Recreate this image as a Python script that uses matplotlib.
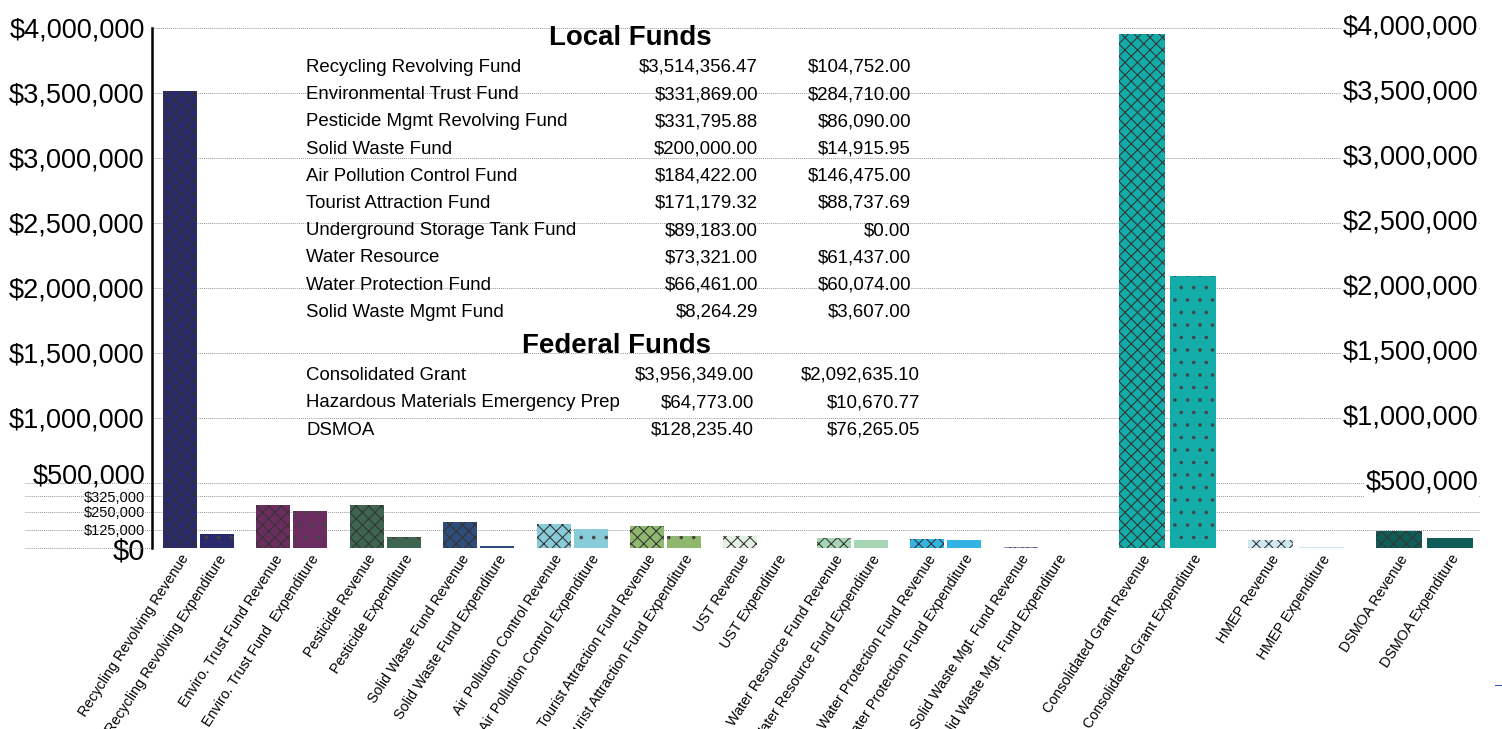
import numpy as np
import matplotlib.pyplot as plt
import matplotlib.transforms as mtransforms
from matplotlib.lines import Line2D

plt.rcParams['font.family'] = ['Liberation Sans', 'DejaVu Sans']
plt.rcParams['hatch.linewidth'] = 1.0

# fund table / bar data (same order in table and bars)
fund_names = ['Recycling Revolving Fund', 'Environmental Trust Fund', 'Pesticide Mgmt Revolving Fund',
              'Solid Waste Fund', 'Air Pollution Control Fund', 'Tourist Attraction Fund',
              'Underground Storage Tank Fund', 'Water Resource', 'Water Protection Fund',
              'Solid Waste Mgmt Fund',
              'Consolidated Grant', 'Hazardous Materials Emergency Prep', 'DSMOA']
is_federal = [False] * 10 + [True] * 3
revenue = [3514356.47, 331869.00, 331795.88, 200000.00, 184422.00, 171179.32, 89183.00,
           73321.00, 66461.00, 8264.29, 3956349.00, 64773.00, 128235.40]
expenditure = [104752.00, 284710.00, 86090.00, 14915.95, 146475.00, 88737.69, 0.00,
               61437.00, 60074.00, 3607.00, 2092635.10, 10670.77, 76265.05]

rev_labels = ['Recycling Revolving Revenue', 'Enviro. Trust Fund Revenue', 'Pesticide Revenue',
              'Solid Waste Fund Revenue', 'Air Pollution Control Revenue',
              'Tourist Attraction Fund Revenue', 'UST Revenue', 'Water Resource Fund Revenue',
              'Water Protection Fund Revenue', 'Solid Waste Mgt. Fund Revenue',
              'Consolidated Grant Revenue', 'HMEP Revenue', 'DSMOA Revenue']
exp_labels = ['Recycling Revolving Expenditure', 'Enviro. Trust Fund  Expenditure',
              'Pesticide Expenditure', 'Solid Waste Fund Expenditure',
              'Air Pollution Control Expenditure', 'Tourist Attraction Fund Expenditure',
              'UST Expenditure', 'Water Resource Fund Expenditure',
              'Water Protection Fund Expenditure', 'Solid Waste Mgt. Fund Expenditure',
              'Consolidated Grant Expenditure', 'HMEP Expenditure', 'DSMOA Expenditure']
bar_colors = ['#2a2a6e', '#6b2d5f', '#3e6550', '#2e4d7a', '#87ccd8', '#8fb86e', '#e2f1e4',
              '#a6d5b3', '#33b3e3', '#8e8cc9', '#14aca8', '#cfe9f0', '#0f5d58']

big_ticks = [0, 500000, 1000000, 1500000, 2000000, 2500000, 3000000, 3500000, 4000000]
small_tick_labels = ['$125,000', '$250,000', '$325,000']
# the original draws these small labels at these heights
small_tick_pos = [140000, 278000, 400000]

W, H, DPI = 1502, 729, 75
fig = plt.figure(figsize=(W / DPI, H / DPI), dpi=DPI)
ax = fig.add_axes([152 / W, 1 - 548 / H, (1480 - 152) / W, (548 - 28) / H])

# group positions: federal groups are spaced wider
group_x = []
pos = 0.0
for i, fed in enumerate(is_federal):
    if i > 0:
        pos += 1.375 if fed else 1.0
    group_x.append(pos)
group_x = np.array(group_x)
offs = np.where(is_federal, 0.273, 0.198)
widths = np.where(is_federal, 0.49, 0.364)

for i in range(len(fund_names)):
    ax.bar(group_x[i] - offs[i], revenue[i], widths[i], color=bar_colors[i],
           hatch='xx', edgecolor='#333333', linewidth=0, zorder=2)
    ax.bar(group_x[i] + offs[i], expenditure[i], widths[i], color=bar_colors[i],
           hatch='.', edgecolor='#444444', linewidth=0, zorder=2)

ax.set_xlim(-0.498, 13.72)
ax.set_ylim(0, 4000000)

# y ticks left ($500,000 label is drawn separately, a bit above its line)
yt = big_ticks + small_tick_pos
ylabs = ['$' + format(t, ',') if t != 500000 else '' for t in big_ticks] + small_tick_labels
ax.set_yticks(yt)
ax.set_yticklabels(ylabs)
for lbl, t in zip(ax.get_yticklabels(), yt):
    if t in small_tick_pos:
        lbl.set_fontsize(14)
    elif t == 0:
        lbl.set_fontsize(28)
    else:
        lbl.set_fontsize(26)
ax.tick_params(axis='y', length=0, pad=7)

ytrans = ax.get_yaxis_transform()
lift = mtransforms.ScaledTranslation(-7 / DPI, 6 / DPI, fig.dpi_scale_trans)
ax.text(0, 500000, '$500,000', transform=ytrans + lift, ha='right', va='center', fontsize=26)

grid_kw = dict(linestyle=(0, (1, 1.2)), color='#8c8c8c', linewidth=0.9)
ax.yaxis.grid(True, **grid_kw)
ax.set_axisbelow(True)

for t in [0, 500000] + small_tick_pos:
    ax.plot([(25 - 152) / 1328, 0], [t, t], transform=ytrans, clip_on=False, **grid_kw)

# right-hand labels
for t in big_ticks[1:]:
    ax.text((1478 - 152) / 1328, t, '$' + format(t, ','), transform=ytrans,
            ha='right', va='center', fontsize=26, zorder=3,
            bbox=dict(facecolor='white', edgecolor='none', pad=1))

for s in ['top', 'right', 'bottom']:
    ax.spines[s].set_visible(False)
ax.spines['left'].set_linewidth(2.4)
ax.spines['left'].set_color('black')

# x tick labels
xt = np.concatenate([group_x - offs, group_x + offs])
xl = rev_labels + exp_labels
order = np.argsort(xt)
ax.set_xticks(xt[order])
ax.set_xticklabels([xl[k] for k in order], rotation=57, ha='right',
                   rotation_mode='anchor', fontsize=13.7)
ax.tick_params(axis='x', length=0, pad=4)


# table of funds
def put(xp, yp, s, **kw):
    fig.text(xp / W, 1 - yp / H, s, **kw)


put(630, 45, 'Local Funds', ha='center', va='baseline', fontsize=26.5, fontweight='bold')
put(617, 353, 'Federal Funds', ha='center', va='baseline', fontsize=26.5, fontweight='bold')

li = 0
fi = 0
for i, name in enumerate(fund_names):
    if is_federal[i]:
        y = 373 + 27.3 * fi + 7
        c2, c3 = 754, 920
        fi += 1
    else:
        y = 65 + 27.2 * li + 7
        c2, c3 = 758, 911
        li += 1
    put(306, y, name, ha='left', va='baseline', fontsize=17.9)
    put(c2, y, '${:,.2f}'.format(revenue[i]), ha='right', va='baseline', fontsize=17.9)
    put(c3, y, '${:,.2f}'.format(expenditure[i]), ha='right', va='baseline', fontsize=17.9)

fig.add_artist(Line2D([1495 / W, 1502 / W], [1 - 685 / H] * 2, color='#3355bb', lw=1))

fig.savefig('out.png', dpi=DPI)
